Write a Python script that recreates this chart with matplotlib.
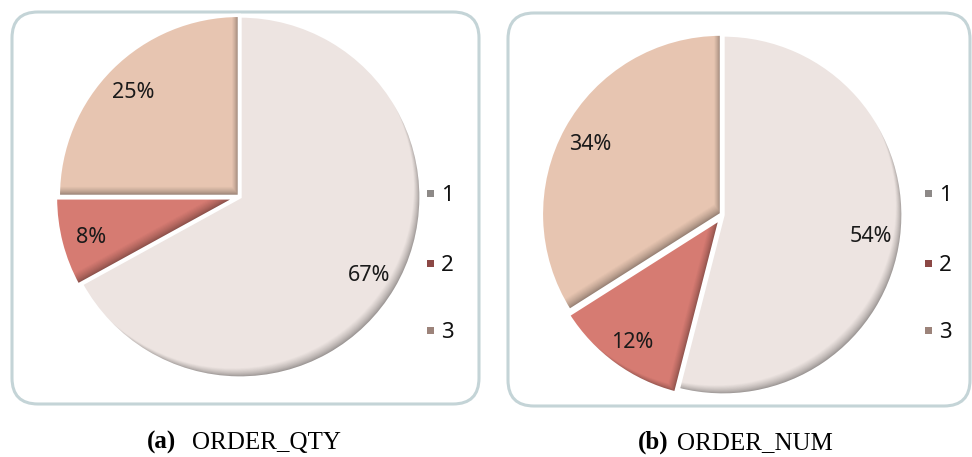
import numpy as np
import matplotlib
matplotlib.use("Agg")
import matplotlib.pyplot as plt
from matplotlib.patches import FancyBboxPatch, Wedge
from matplotlib.colors import to_rgb

# ---- data ----
categories = ["1", "2", "3"]
order_qty = [67, 8, 25]
order_num = [54, 12, 34]
captions = [("(a)", "ORDER_QTY"), ("(b)", "ORDER_NUM")]

slice_colors = ["#EDE4E1", "#D67B72", "#E7C5B1"]
legend_colors = ["#8D8987", "#8C4845", "#9C837A"]

W, H = 972, 457
fig = plt.figure(figsize=(W / 100, H / 100), dpi=100)

# full-figure pixel canvas for frames, legends and captions
bg = fig.add_axes([0, 0, 1, 1])
bg.set_xlim(0, W)
bg.set_ylim(H, 0)
bg.axis("off")

frames = [(12, 12, 467, 392), (508, 13, 462, 393)]
for (x0, y0, fw, fh) in frames:
    bg.add_patch(FancyBboxPatch((x0, y0), fw, fh,
                                boxstyle="round,pad=0,rounding_size=26",
                                facecolor="white", edgecolor="#C4D4D7",
                                linewidth=2.2, zorder=0))

# pie centres and radii in pixels
pies = [((240, 197), 181, order_qty, [0, 0.02, 0.005]),
        ((723, 215), 180, order_num, [0, 0.025, 0.01])]

label_font = "Noto Sans"


def shade_wedge(ax, w, color, r_px):
    """Inner shadow along the lower-right edges of a wedge."""
    base = np.array(to_rgb(color))
    dark = base * 0.48
    cx, cy = w.center
    n = 16
    max_shift = 12.0 / r_px
    # darkest underlay
    under = Wedge((cx, cy), w.r, w.theta1, w.theta2, facecolor=dark,
                  edgecolor="none", zorder=2)
    ax.add_patch(under)
    under.set_clip_path(w)
    for k in range(1, n + 1):
        t = k / n
        s = max_shift * t
        col = dark + (base - dark) * (t ** 0.55)
        layer = Wedge((cx - s * 0.6, cy + s * 0.8), w.r, w.theta1, w.theta2,
                      facecolor=col, edgecolor="none", zorder=2 + k * 0.01)
        ax.add_patch(layer)
        layer.set_clip_path(w)
    # white separating edge on top
    ax.add_patch(Wedge((cx, cy), w.r, w.theta1, w.theta2, facecolor="none",
                       edgecolor="white", linewidth=2.4, zorder=3))


for (c, r, vals, expl) in pies:
    left = (c[0] - r) / W
    bottom = (H - c[1] - r) / H
    ax = fig.add_axes([left, bottom, 2 * r / W, 2 * r / H])
    wedges, texts, autotexts = ax.pie(
        vals, colors=slice_colors, startangle=90, counterclock=False,
        explode=expl, autopct=lambda p: f"{p:.0f}%", pctdistance=0.83,
        wedgeprops=dict(edgecolor="white", linewidth=2.4),
        textprops=dict(fontsize=15.5, color="#1a1a1a", family=label_font))
    for w, col in zip(wedges, slice_colors):
        shade_wedge(ax, w, col, r)
    for t in autotexts:
        t.set_zorder(5)
        t.set_va("center_baseline")
    ax.set_xlim(-1, 1)
    ax.set_ylim(-1, 1)
    ax.axis("off")

# legends
legend_x = [430, 928]
legend_y = [193, 263, 330]
for lx in legend_x:
    for name, col, ly in zip(categories, legend_colors, legend_y):
        bg.add_patch(plt.Rectangle((lx - 3.5, ly - 3.5), 7, 7,
                                   facecolor=col, edgecolor="none", zorder=3))
        bg.text(lx + 11, ly, name, fontsize=16, family=label_font,
                va="center_baseline", ha="left", color="#111111")

# captions
cap_pos = [(147, 192), (638, 677)]
for (tag, name), (xt, xn) in zip(captions, cap_pos):
    bg.text(xt, 449, tag, fontsize=18, family="Liberation Serif",
            fontweight="bold", va="baseline", ha="left")
    bg.text(xn, 449, name, fontsize=18, family="Liberation Serif",
            va="baseline", ha="left")

fig.savefig("out.png", dpi=100)
